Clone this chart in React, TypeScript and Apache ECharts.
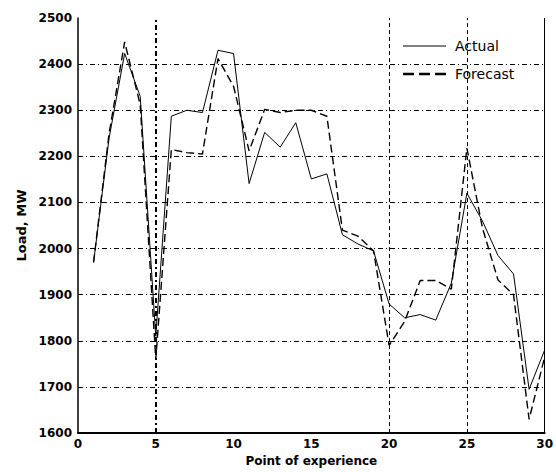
import React, { useEffect, useRef } from "react";
import * as echarts from "echarts";

const points = [
  1, 2, 3, 4, 5, 6, 7, 8, 9, 10, 11, 12, 13, 14, 15, 16, 17, 18, 19, 20, 21,
  22, 23, 24, 25, 26, 27, 28, 29, 30,
];
const actual = [
  1970, 2240, 2423, 2330, 1810, 2287, 2300, 2295, 2430, 2423, 2141, 2252, 2220,
  2273, 2151, 2162, 2030, 2010, 1995, 1880, 1850, 1857, 1845, 1925, 2120, 2060,
  1985, 1945, 1695, 1780,
];
const forecast = [
  1970, 2250, 2448, 2312, 1760, 2215, 2208, 2205, 2412, 2352, 2212, 2302, 2295,
  2300, 2300, 2287, 2040, 2027, 1995, 1790, 1842, 1931, 1931, 1912, 2218, 2045,
  1932, 1900, 1630, 1765,
];
const seriesNames = ["Actual", "Forecast"];
const markerMain = 5;
const markerOthers = [20, 25];
const rightEdge = 30;

export default function App() {
  const ref = useRef<HTMLDivElement>(null);
  useEffect(() => {
    if (!ref.current) return;
    const chart = echarts.init(ref.current, undefined, { renderer: "svg" });
    const labelFont = {
      fontFamily: "DejaVu Sans",
      fontWeight: "bold" as const,
      fontSize: 12,
      color: "#000",
    };
    const legendText = {
      fontFamily: "DejaVu Sans",
      fontSize: 14,
      fill: "#000",
      verticalAlign: "middle" as const,
    };
    chart.setOption({
      animation: false,
      backgroundColor: "#fff",
      grid: { left: 78, right: 5, top: 18, bottom: 35 },
      graphic: [
        {
          type: "line",
          shape: { x1: 403, y1: 46, x2: 446, y2: 46 },
          style: { stroke: "#000", lineWidth: 1 },
        },
        {
          type: "text",
          x: 455,
          y: 46,
          style: { ...legendText, text: seriesNames[0] },
        },
        {
          type: "line",
          shape: { x1: 403, y1: 74, x2: 446, y2: 74 },
          style: { stroke: "#000", lineWidth: 2.5, lineDash: [11, 5] },
        },
        {
          type: "text",
          x: 455,
          y: 74,
          style: { ...legendText, text: seriesNames[1] },
        },
      ],
      xAxis: {
        type: "value",
        min: 0,
        max: 30,
        interval: 5,
        name: "Point of experience",
        nameLocation: "middle",
        nameGap: 18,
        nameTextStyle: { ...labelFont, fontSize: 12 },
        axisLine: { show: true, onZero: false, lineStyle: { color: "#000", width: 2 } },
        axisTick: { show: false },
        axisLabel: { ...labelFont, margin: 5, formatter: (v: number) => String(v) },
        splitLine: { show: false },
      },
      yAxis: {
        type: "value",
        min: 1600,
        max: 2500,
        interval: 100,
        name: "Load, MW",
        nameLocation: "middle",
        nameGap: 48,
        nameTextStyle: { ...labelFont, fontSize: 13 },
        axisLine: { show: true, lineStyle: { color: "#000", width: 1.5 } },
        axisTick: { show: false },
        axisLabel: { ...labelFont, margin: 6, formatter: (v: number) => String(v) },
        splitLine: {
          show: true,
          showMinLine: false,
          showMaxLine: false,
          lineStyle: { color: "#000", width: 1, type: [5, 3, 1, 3] },
        },
      },
      series: [
        {
          name: seriesNames[0],
          type: "line",
          symbol: "none",
          data: points.map((p, i) => [p, actual[i]]),
          lineStyle: { color: "#000", width: 1, type: "solid" },
          itemStyle: { color: "#000" },
          markLine: {
            silent: true,
            symbol: "none",
            label: { show: false },
            data: [
              {
                xAxis: markerMain,
                lineStyle: { color: "#000", width: 2, type: [5, 3, 2, 3] },
              },
              ...markerOthers.map((v) => ({
                xAxis: v,
                lineStyle: { color: "#000", width: 1, type: [4, 3] },
              })),
              {
                xAxis: rightEdge,
                lineStyle: { color: "#000", width: 1, type: "solid" },
              },
            ],
          },
        },
        {
          name: seriesNames[1],
          type: "line",
          symbol: "none",
          data: points.map((p, i) => [p, forecast[i]]),
          lineStyle: { color: "#000", width: 1.4, type: [8, 4] },
          itemStyle: { color: "#000" },
        },
      ],
    });
    return () => chart.dispose();
  }, []);
  return (
    <div
      ref={ref}
      style={{ position: "fixed", left: 0, top: 0, width: 556, height: 472 }}
    />
  );
}
